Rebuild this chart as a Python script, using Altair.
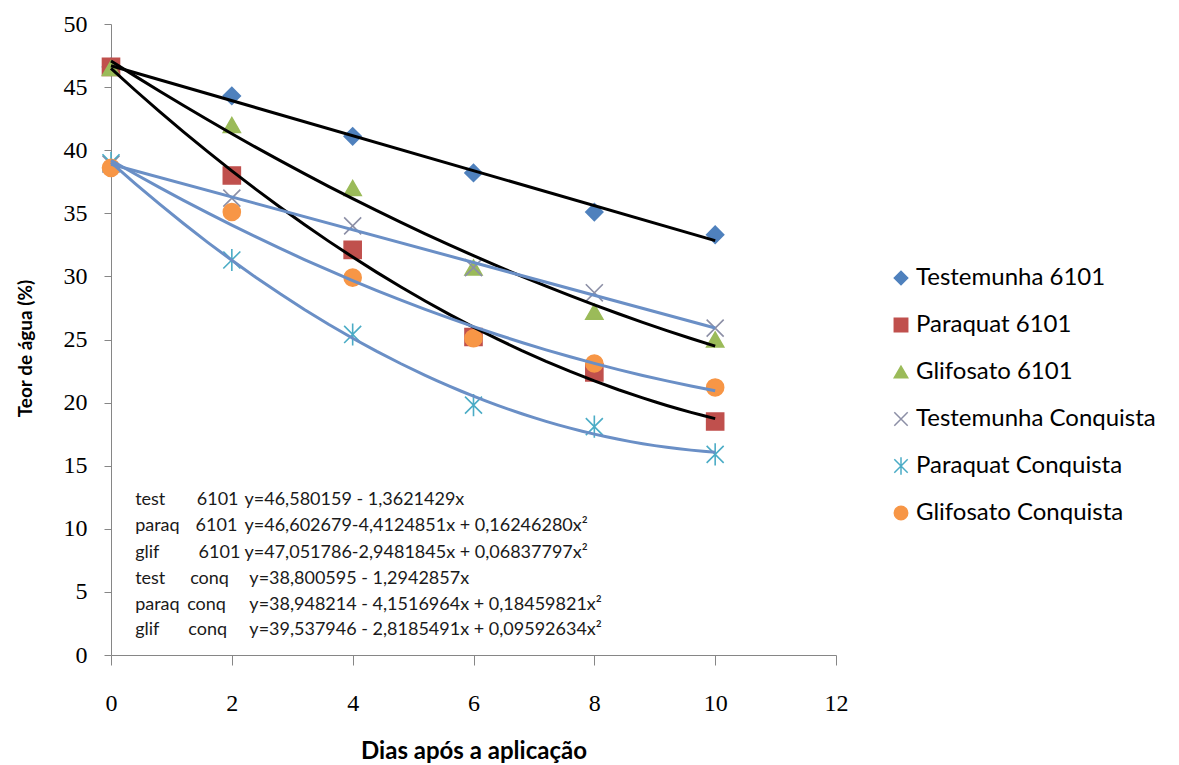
import altair as alt
import pandas as pd

# ---------------- data ----------------
days = [0, 2, 4, 6, 8, 10]
series_names = ["Testemunha 6101", "Paraquat 6101", "Glifosato 6101",
                "Testemunha Conquista", "Paraquat Conquista", "Glifosato Conquista"]
testemunha_6101 = [46.6, 44.3, 41.1, 38.2, 35.1, 33.3]
paraquat_6101 = [46.6, 38.0, 32.1, 25.2, 22.4, 18.5]
glifosato_6101 = [46.5, 42.0, 37.0, 30.7, 27.2, 25.0]
testemunha_conq = [38.9, 36.2, 34.0, 30.7, 28.7, 25.9]
paraquat_conq = [39.0, 31.3, 25.4, 19.8, 18.1, 15.9]
glifosato_conq = [38.6, 35.1, 29.9, 25.1, 23.1, 21.2]

eq_names = ["test", "paraq", "glif", "test", "paraq", "glif"]
eq_cultivars = ["6101", "6101", "6101", "conq", "conq", "conq"]
equations = [
    "y=46,580159 - 1,3621429x",
    "y=46,602679-4,4124851x + 0,16246280x²",
    "y=47,051786-2,9481845x + 0,06837797x²",
    "y=38,800595 - 1,2942857x",
    "y=38,948214 - 4,1516964x + 0,18459821x²",
    "y=39,537946 - 2,8185491x + 0,09592634x²",
]

# ---------------- styling / layout ----------------
fill_colors = ["#4F81BD", "#C0504D", "#9BBB59", "transparent", "transparent", "#F79646"]
stroke_colors = ["#4F81BD", "#C0504D", "#9BBB59", "#8C8FA6", "#4BACC6", "#F79646"]
shapes = ["diamond", "square", "triangle-up",
          "M-1,-1L1,1M-1,1L1,-1",
          "M-1,-1L1,1M-1,1L1,-1M0,-1.3L0,1.3",
          "circle"]
eq_rows_y = [12.3, 10.2, 8.1, 6.05, 4.0, 1.95]
name_x = 0.40
cult_x = [1.42, 1.40, 1.45, 1.31, 1.26, 1.28]
eq_x = [2.21, 2.21, 2.21, 2.29, 2.29, 2.29]

all_values = [testemunha_6101, paraquat_6101, glifosato_6101,
              testemunha_conq, paraquat_conq, glifosato_conq]
rows = []
for name, vals in zip(series_names, all_values):
    for d, v in zip(days, vals):
        rows.append({"series": name, "dias": d, "teor": v})
df = pd.DataFrame(rows)

ann_rows = []
for i in range(6):
    ann_rows.append({"x": name_x, "y": eq_rows_y[i], "t": eq_names[i]})
    ann_rows.append({"x": cult_x[i], "y": eq_rows_y[i], "t": eq_cultivars[i]})
    ann_rows.append({"x": eq_x[i], "y": eq_rows_y[i], "t": equations[i]})
ann = pd.DataFrame(ann_rows)

AXIS_GRAY = "#868686"

x_enc = alt.X("dias:Q",
              scale=alt.Scale(domain=[0, 12], nice=False),
              axis=alt.Axis(values=list(range(0, 13, 2)), format="d", labelFlush=False,
                            title="Dias após a aplicação",
                            grid=False, tickSize=10, tickColor=AXIS_GRAY, domainColor=AXIS_GRAY,
                            labelFont="Liberation Serif", labelFontSize=24, labelColor="#000",
                            labelPadding=26, titleFont="Lato", titleFontSize=24,
                            titleFontWeight="bold", titleColor="#000",
                            titleY=96, titleBaseline="middle"))
y_enc = alt.Y("teor:Q",
              scale=alt.Scale(domain=[0, 50], nice=False),
              axis=alt.Axis(values=list(range(0, 51, 5)), format="d", labelFlush=False,
                            title="Teor de água (%)",
                            grid=False, tickSize=7, tickColor=AXIS_GRAY, domainColor=AXIS_GRAY,
                            labelFont="Liberation Serif", labelFontSize=24, labelColor="#000",
                            labelPadding=17, titleFont="Lato", titleFontSize=19,
                            titleFontWeight="bold", titleColor="#000",
                            titleX=-86, titleY=324, titleAngle=-90,
                            titleAlign="center", titleBaseline="middle"))

base = alt.Chart(df)

points = base.mark_point(size=290, strokeWidth=1.6, opacity=1).encode(
    x=x_enc,
    y=y_enc,
    shape=alt.Shape("series:N", scale=alt.Scale(domain=series_names, range=shapes),
                    legend=alt.Legend(title=None, orient="none", legendX=778, legendY=242,
                                      labelFont="Lato", labelFontSize=24, labelColor="#000",
                                      labelLimit=400,
                                      symbolSize=180, symbolStrokeWidth=1.5,
                                      labelOffset=3, rowPadding=23, padding=0)),
    fill=alt.Fill("series:N", scale=alt.Scale(domain=series_names, range=fill_colors)),
    stroke=alt.Stroke("series:N", scale=alt.Scale(domain=series_names, range=stroke_colors)),
)

lin_6101 = base.transform_filter(
    alt.datum.series == "Testemunha 6101"
).transform_regression("dias", "teor", method="linear", extent=[0, 10]).mark_line(
    color="black", strokeWidth=3).encode(x=x_enc, y=y_enc)

poly_6101 = base.transform_filter(
    alt.FieldOneOfPredicate(field="series", oneOf=["Paraquat 6101", "Glifosato 6101"])
).transform_regression("dias", "teor", method="poly", order=2, groupby=["series"],
                       extent=[0, 10]).mark_line(
    color="black", strokeWidth=3).encode(x=x_enc, y=y_enc, detail="series:N")

lin_conq = base.transform_filter(
    alt.datum.series == "Testemunha Conquista"
).transform_regression("dias", "teor", method="linear", extent=[0, 10]).mark_line(
    color="#6A8FC6", strokeWidth=3).encode(x=x_enc, y=y_enc)

poly_conq = base.transform_filter(
    alt.FieldOneOfPredicate(field="series", oneOf=["Paraquat Conquista", "Glifosato Conquista"])
).transform_regression("dias", "teor", method="poly", order=2, groupby=["series"],
                       extent=[0, 10]).mark_line(
    color="#6A8FC6", strokeWidth=3).encode(x=x_enc, y=y_enc, detail="series:N")

text = alt.Chart(ann).mark_text(align="left", baseline="middle", font="Lato",
                                fontSize=18, color="#1a1a1a").encode(
    x=alt.X("x:Q"), y=alt.Y("y:Q"), text="t:N")

chart = alt.layer(points, lin_6101, poly_6101, lin_conq, poly_conq, text).properties(
    width=725, height=631,
    autosize=alt.AutoSizeParams(type="none"),
    padding={"left": 111, "top": 24, "right": 343, "bottom": 110},
    background="white",
).configure_view(stroke=None)

chart.save("out.html", embed_options={"renderer": "svg", "actions": False})
